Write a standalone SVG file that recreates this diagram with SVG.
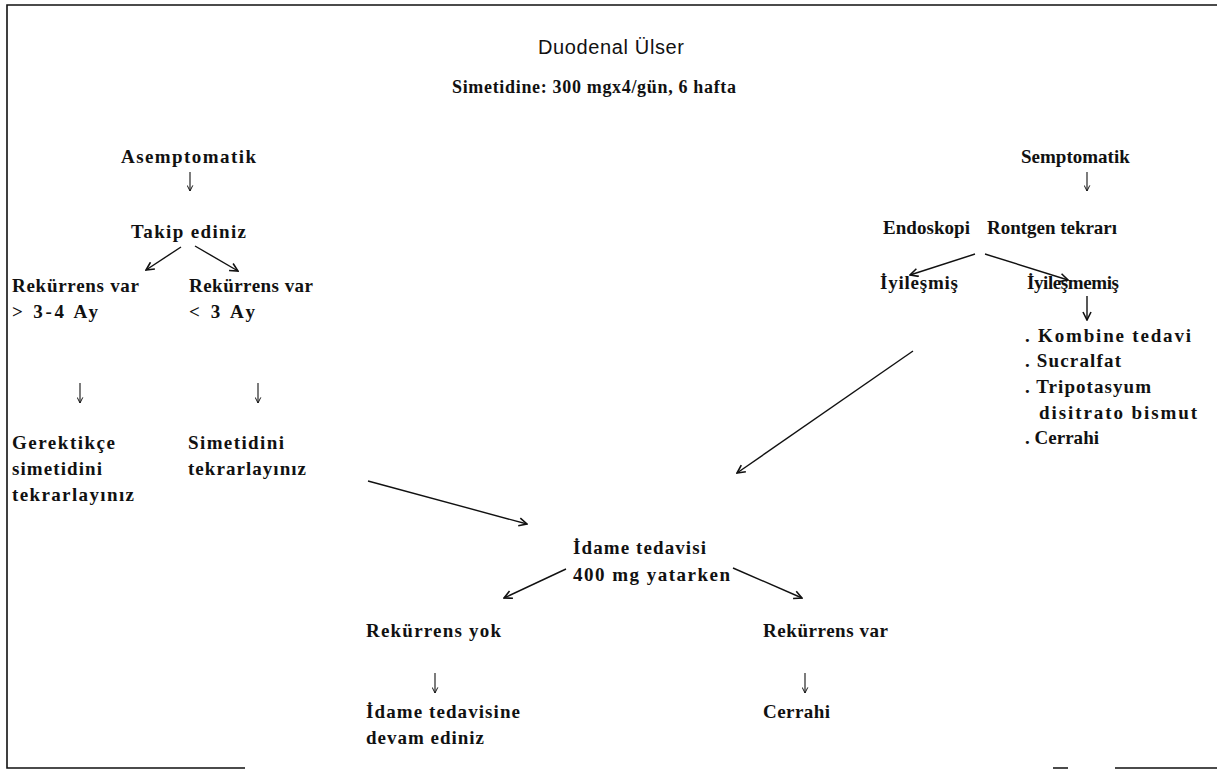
<svg xmlns="http://www.w3.org/2000/svg" width="1217" height="773" viewBox="0 0 1217 773">
<defs>
<style>
.t{font-family:"Liberation Serif","Times New Roman",serif;font-weight:bold;font-size:19px;fill:#111}
.s{font-size:18px}
.h{font-family:"Liberation Sans",Arial,sans-serif;font-size:20px;fill:#111}
.c{stroke:#111;stroke-width:1.4;fill:none;marker-end:url(#ah)}
.d{stroke:#111;stroke-width:1.1;fill:none;marker-end:url(#ah2)}
.f{stroke:#111;stroke-width:1.6;fill:none}
</style>
<marker id="ah" viewBox="0 0 10 10" refX="9" refY="5" markerWidth="10" markerHeight="10" markerUnits="userSpaceOnUse" orient="auto">
<path d="M1,1 L9,5 L1,9" fill="none" stroke="#111" stroke-width="1.6"/>
</marker>
<marker id="ah2" viewBox="0 0 10 10" refX="9" refY="5" markerWidth="7" markerHeight="7" markerUnits="userSpaceOnUse" orient="auto">
<path d="M1,1 L9,5 L1,9" fill="none" stroke="#111" stroke-width="1.4"/>
</marker>
</defs>
<rect width="1217" height="773" fill="#fff"/>
<g id="frame">
<path class="f" d="M1217,5 L7,5 L7,768 L245,768"/>
<path class="f" d="M1053,768 L1068,768 M1115,768 L1217,768"/>
</g>
<g id="title"><text class="h" x="611" y="54" text-anchor="middle" textLength="146">Duodenal Ülser</text></g>
<g id="subtitle"><text class="t s" x="452" y="93" textLength="284">Simetidine: 300 mgx4/gün, 6 hafta</text></g>
<g id="asemptomatik"><text class="t" x="121" y="163" textLength="135">Asemptomatik</text></g>
<g id="semptomatik"><text class="t" x="1021" y="163">Semptomatik</text></g>
<g id="takip"><text class="t" x="131" y="238" textLength="115">Takip ediniz</text></g>
<g id="endoskopi"><text class="t" x="883" y="234" textLength="87">Endoskopi</text></g>
<g id="rontgen"><text class="t" x="987" y="234" textLength="130">Rontgen tekrarı</text></g>
<g id="rek-gt">
<text class="t" x="12" y="292" textLength="127">Rekürrens var</text>
<text class="t" x="12" y="318" textLength="86">&gt; 3-4 Ay</text>
</g>
<g id="rek-lt">
<text class="t" x="189" y="292" textLength="124">Rekürrens var</text>
<text class="t" x="189" y="318" textLength="66">&lt; 3 Ay</text>
</g>
<g id="iyilesmis"><text class="t" x="880" y="289" textLength="78">İyileşmiş</text></g>
<g id="iyilesmemis"><text class="t" x="1027" y="289" textLength="92">İyileşmemiş</text></g>
<g id="tedaviler">
<text class="t" x="1025" y="342" textLength="166">. Kombine tedavi</text>
<text class="t" x="1025" y="367" textLength="96">. Sucralfat</text>
<text class="t" x="1025" y="393" textLength="126">. Tripotasyum</text>
<text class="t" x="1039" y="419" textLength="158">disitrato bismut</text>
<text class="t" x="1025" y="444" textLength="74">. Cerrahi</text>
</g>
<g id="gerektikce">
<text class="t" x="12" y="449" textLength="103">Gerektikçe</text>
<text class="t" x="12" y="475" textLength="90">simetidini</text>
<text class="t" x="12" y="501" textLength="122">tekrarlayınız</text>
</g>
<g id="simetidini">
<text class="t" x="188" y="449" textLength="96">Simetidini</text>
<text class="t" x="188" y="475" textLength="118">tekrarlayınız</text>
</g>
<g id="idame">
<text class="t" x="573" y="554" textLength="133">İdame tedavisi</text>
<text class="t" x="573" y="581" textLength="157">400 mg yatarken</text>
</g>
<g id="rek-yok"><text class="t" x="366" y="637" textLength="135">Rekürrens yok</text></g>
<g id="rek-var"><text class="t" x="763" y="637" textLength="125">Rekürrens var</text></g>
<g id="devam">
<text class="t" x="366" y="718" textLength="154">İdame tedavisine</text>
<text class="t" x="366" y="744" textLength="118">devam ediniz</text>
</g>
<g id="cerrahi"><text class="t" x="763" y="718" textLength="67">Cerrahi</text></g>
<g id="connectors">
<line class="d" x1="190" y1="172" x2="190" y2="191"/>
<line class="d" x1="1087" y1="172" x2="1087" y2="191"/>
<line class="c" x1="181" y1="247" x2="146" y2="270"/>
<line class="c" x1="195" y1="246" x2="238" y2="271"/>
<line class="d" x1="80" y1="383" x2="80" y2="403"/>
<line class="d" x1="258" y1="383" x2="258" y2="403"/>
<line class="c" x1="368" y1="481" x2="527" y2="524"/>
<line class="c" x1="913" y1="351" x2="737" y2="473"/>
<line class="c" x1="975" y1="254" x2="910" y2="275"/>
<line class="c" x1="985" y1="254" x2="1068" y2="280"/>
<line class="c" x1="1087" y1="296" x2="1087" y2="320"/>
<line class="c" x1="566" y1="569" x2="504" y2="598"/>
<line class="c" x1="733" y1="568" x2="802" y2="598"/>
<line class="d" x1="435" y1="673" x2="435" y2="693"/>
<line class="d" x1="805" y1="673" x2="805" y2="693"/>
</g>
</svg>
